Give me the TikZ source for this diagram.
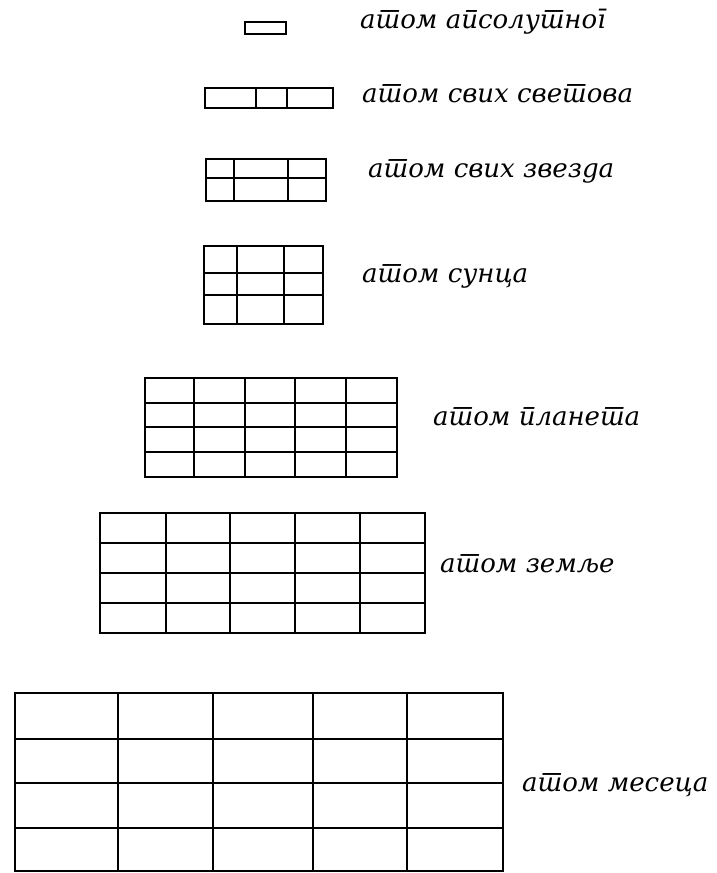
\documentclass[tikz,border=0pt]{standalone}
\usepackage{fontspec}
\newfontfamily\srbfont[Script=Cyrillic,Language=Serbian]{DejaVu Serif}
\usetikzlibrary{positioning}

\begin{document}
\begin{tikzpicture}[x=1pt,y=-1pt,
    frame/.style={line width=1.7pt},
    cell/.style={line width=1.25pt},
    lbl/.style={anchor=base west,inner sep=0pt,
      font=\srbfont\itshape\fontsize{26}{30}\selectfont}]
  \useasboundingbox (0,0) rectangle (716,873);

  % absolute
  \draw[frame] (245,22) rectangle (286,34);
  \node[lbl] (abs) at (360,28) {атом апсолутног};

  % all worlds
  \draw[frame] (205,88) rectangle (333,108);
  \foreach \x in {256,287} \draw[cell] (\x,88) -- (\x,108);
  \node[lbl] (worlds) at (362,102) {атом свих светова};

  % all stars
  \draw[frame] (206,159) rectangle (326,201);
  \draw[cell] (206,178) -- (326,178);
  \foreach \x in {234,288} \draw[cell] (\x,159) -- (\x,201);
  \node[lbl] (stars) at (368,177) {атом свих звезда};

  % sun
  \draw[frame] (204,246) rectangle (323,324);
  \foreach \y in {273,295} \draw[cell] (204,\y) -- (323,\y);
  \foreach \x in {237,284} \draw[cell] (\x,246) -- (\x,324);
  \node[lbl] (sun) at (362,282) {атом сунца};

  % planets
  \draw[frame] (145,378) rectangle (397,477);
  \foreach \y in {403,427,452} \draw[cell] (145,\y) -- (397,\y);
  \foreach \x in {194,245,295,346} \draw[cell] (\x,378) -- (\x,477);
  \node[lbl] (planet) at (433,425) {атом планета};

  % earth
  \draw[frame] (100,513) rectangle (425,633);
  \foreach \y in {543,573,603} \draw[cell] (100,\y) -- (425,\y);
  \foreach \x in {166,230,295,360} \draw[cell] (\x,513) -- (\x,633);
  \node[lbl] (earth) at (440,572) {атом земље};

  % moon
  \draw[frame] (15,693) rectangle (503,871);
  \foreach \y in {739,783,828} \draw[cell] (15,\y) -- (503,\y);
  \foreach \x in {118,213,313,407} \draw[cell] (\x,693) -- (\x,871);
  \node[lbl] (moon) at (522,791) {атом месеца};
\end{tikzpicture}
\end{document}
